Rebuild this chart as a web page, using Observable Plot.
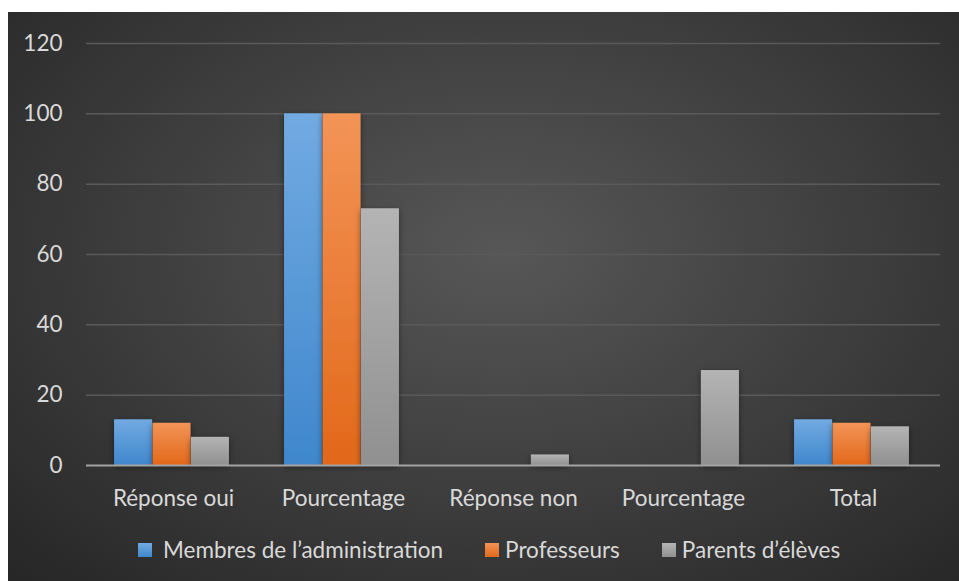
<!DOCTYPE html>
<html>
<head>
<meta charset="utf-8">
<script src="https://cdn.jsdelivr.net/npm/d3@7"></script>
<script src="https://cdn.jsdelivr.net/npm/@observablehq/plot@0.6"></script>
<style>
  html, body { margin: 0; padding: 0; background: #ffffff; }
  body { width: 959px; height: 581px; position: relative; overflow: hidden; font-family: Lato, "Open Sans", sans-serif; }
  #panel {
    position: absolute; left: 8px; top: 12px; width: 951px; height: 569px;
    background: radial-gradient(ellipse farthest-corner at 52% 42%, #575757 0%, #3c3c3c 55%, #262626 100%);
    overflow: hidden;
  }
  #chart { position: absolute; left: 0; top: 0; }
  #legend {
    position: absolute; left: 130px; top: 524px; display: flex; align-items: center;
    color: #d9d9d9; font-size: 22.5px; white-space: nowrap;
  }
  .item { display: flex; align-items: center; margin-right: 42px; }
  .sw { width: 14px; height: 14px; margin-right: 6px; }
</style>
</head>
<body>
<div id="panel">
  <div id="chart"></div>
  <div id="legend"></div>
</div>
<script>
const categories = ["Réponse oui", "Pourcentage", "Réponse non", "Pourcentage", "Total"];
const seriesNames = ["Membres de l’administration", "Professeurs", "Parents d’élèves"];
const membres = [13, 100, 0, 0, 13];
const professeurs = [12, 100, 0, 0, 12];
const parents = [8, 73, 3, 27, 11];
const yTicks = [0, 20, 40, 60, 80, 100, 120];

const seriesValues = [membres, professeurs, parents];
const gradIds = ["gBlue", "gOrange", "gGray"];
const gradStops = [["#72aae2", "#3f87cc"], ["#f39457", "#e2681a"], ["#b4b4b4", "#909090"]];

const W = 951, H = 510;
const mL = 78, mR = 19, mT = 31, mB = 57;
const pInner = 0.775;
const step = (W - mL - mR) / categories.length;
const bw = step * (1 - pInner);

const idx = categories.map((_, i) => i);
const rows = seriesValues.map(vals => idx.map(i => ({cat: i, value: vals[i]})));

const marks = [
  Plot.ruleY(yTicks.filter(d => d > 0), {stroke: "#5a5a5a", strokeWidth: 1.5}),
  ...rows.map((data, s) => Plot.barY(data, {
    x: "cat", y: "value", fill: `url(#${gradIds[s]})`, dx: (s - 1) * bw - 1.5
  })),
  Plot.ruleY([0], {stroke: "#a3a3a3", strokeWidth: 2})
];

const chart = Plot.plot({
  width: W, height: H,
  marginLeft: mL, marginRight: mR, marginTop: mT, marginBottom: mB,
  style: {background: "transparent", color: "#d9d9d9", fontFamily: "Lato, 'Open Sans', sans-serif", fontSize: "22.5px", overflow: "visible"},
  x: {domain: idx, paddingInner: pInner, paddingOuter: pInner / 2, tickFormat: i => categories[i], tickSize: 0, tickPadding: 25, label: null},
  y: {domain: [0, 120], ticks: yTicks, tickSize: 0, tickPadding: 24, label: null},
  marks
});

// gradients
const ns = "http://www.w3.org/2000/svg";
const defs = document.createElementNS(ns, "defs");
gradIds.forEach((id, s) => {
  const g = document.createElementNS(ns, "linearGradient");
  g.setAttribute("id", id);
  g.setAttribute("x1", "0"); g.setAttribute("y1", "0");
  g.setAttribute("x2", "0"); g.setAttribute("y2", "1");
  [[0, gradStops[s][0]], [1, gradStops[s][1]]].forEach(([o, c]) => {
    const st = document.createElementNS(ns, "stop");
    st.setAttribute("offset", o);
    st.setAttribute("stop-color", c);
    g.appendChild(st);
  });
  defs.appendChild(g);
});
const filt = document.createElementNS(ns, "filter");
filt.setAttribute("id", "shadow");
filt.setAttribute("x", "-20%"); filt.setAttribute("y", "-5%");
filt.setAttribute("width", "140%"); filt.setAttribute("height", "115%");
filt.innerHTML = '<feDropShadow dx="0" dy="2" stdDeviation="3" flood-color="#000" flood-opacity="0.45"/>';
defs.appendChild(filt);
chart.insertBefore(defs, chart.firstChild);
chart.querySelectorAll("g[aria-label='bar']").forEach(g => g.setAttribute("filter", "url(#shadow)"));

document.getElementById("chart").appendChild(chart);

const legend = document.getElementById("legend");
seriesNames.forEach((name, s) => {
  const it = document.createElement("div");
  it.className = "item";
  const sw = document.createElement("div");
  sw.className = "sw";
  sw.style.background = `linear-gradient(${gradStops[s][0]}, ${gradStops[s][1]})`;
  if (s === 0) sw.style.marginRight = "11px";
  const t = document.createElement("span");
  t.textContent = name;
  it.appendChild(sw); it.appendChild(t);
  legend.appendChild(it);
});
</script>
</body>
</html>
